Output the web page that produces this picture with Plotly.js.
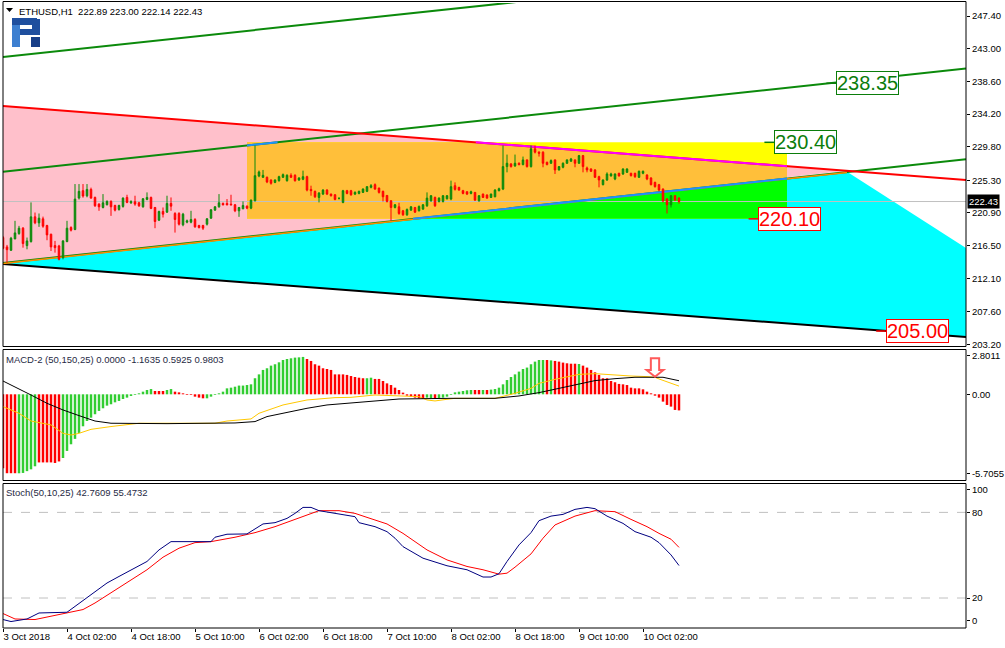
<!DOCTYPE html>
<html><head><meta charset="utf-8">
<script src="https://cdn.plot.ly/plotly-3.0.1.min.js"></script>
<style>html,body{margin:0;padding:0;background:#fff}#chart{width:1005px;height:648px}</style>
</head><body><div id="chart"></div>
<script>
// ---------------- DATA (ETHUSD, H1, bar index 0 = 3 Oct 2018 10:00) ----------------
const openP = [
217.58,216.32,215.87,217.40,218.12,218.84,216.50,217.04,220.37,219.56,
220.10,219.20,218.03,216.50,216.45,214.87,217.04,218.93,218.66,222.90,
223.89,223.20,224.06,222.98,222.08,221.63,222.00,222.44,221.90,221.36,
221.77,222.98,222.26,222.40,222.26,221.72,222.71,222.98,221.63,219.92,
221.09,221.00,222.17,220.82,220.82,219.29,219.65,219.65,220.01,219.20,
219.20,219.38,220.19,221.27,221.72,222.17,222.17,222.08,221.99,221.18,
221.45,221.81,221.54,222.53,225.86,225.69,225.69,225.33,225.00,225.24,
225.69,225.24,225.96,225.96,225.33,225.42,225.78,224.06,223.80,222.98,
223.43,223.97,223.43,223.34,222.85,222.31,223.89,223.89,223.43,223.52,
223.66,223.80,224.34,224.70,224.24,223.80,223.25,222.53,221.63,221.72,
221.18,220.64,221.27,221.63,221.18,221.41,221.86,222.53,222.98,222.44,
222.44,222.80,222.76,224.56,224.34,223.89,223.75,223.52,223.66,222.53,
223.43,223.30,222.98,223.07,223.89,224.11,227.13,227.49,227.22,227.58,
227.40,228.03,227.13,229.52,229.07,229.07,227.71,227.58,228.03,226.68,
227.04,227.58,227.85,228.03,227.58,228.61,226.95,226.81,226.68,225.78,
224.70,225.33,225.87,225.46,226.23,226.14,226.36,226.23,226.23,225.69,
226.23,226.00,225.60,225.01,224.70,224.11,222.76,221.99,223.21,222.89];
const highP = [
217.80,216.59,217.67,219.83,219.15,219.00,217.58,222.31,220.95,220.82,
220.40,219.30,218.10,217.13,216.60,217.22,219.83,219.10,224.78,224.78,
224.78,224.78,224.30,223.10,222.20,223.43,222.60,222.60,222.00,222.00,
223.00,223.34,222.60,223.21,222.40,222.90,223.66,223.10,221.70,221.20,
221.63,223.21,222.98,221.00,221.00,220.90,220.00,221.18,220.20,219.30,
219.30,220.20,221.40,221.80,223.43,222.30,222.76,223.34,222.10,221.70,
222.44,221.90,222.70,229.97,226.60,226.68,225.80,225.40,225.40,225.90,
226.20,226.10,226.23,226.10,225.70,226.59,225.90,224.56,223.90,223.70,
224.10,224.10,223.50,223.40,223.00,224.00,224.00,224.00,223.80,223.90,
224.20,224.50,224.78,224.87,224.30,223.90,223.30,222.60,222.10,222.26,
221.30,221.50,221.80,221.70,221.90,222.10,223.66,223.30,223.10,223.00,
223.30,223.30,225.24,225.01,224.40,224.00,223.80,223.89,223.70,223.30,
223.50,223.40,223.50,224.10,224.30,229.97,228.75,227.60,228.75,227.70,
228.48,228.10,229.97,229.97,229.20,229.20,227.80,228.10,228.10,227.20,
227.70,228.10,228.30,228.10,228.70,228.70,227.13,226.90,226.80,225.90,
225.40,226.36,226.30,226.20,226.30,226.90,226.90,226.30,226.30,226.60,
226.60,226.10,225.70,225.10,224.80,224.20,222.90,223.30,223.30,223.00];
const lowP = [
216.00,214.20,215.77,217.35,217.95,216.22,216.00,216.90,219.38,219.02,
218.90,217.22,215.77,215.55,214.51,214.65,216.95,218.40,218.57,222.70,
222.95,223.00,222.80,221.70,221.18,221.50,221.90,220.50,221.10,221.20,
221.60,222.20,222.10,221.86,221.70,221.60,222.60,221.40,218.84,219.80,
220.28,220.90,221.18,218.25,219.20,219.10,219.50,219.50,218.90,218.80,
218.60,219.20,220.10,221.20,221.60,221.90,221.90,221.90,221.00,220.37,
221.40,221.40,221.40,222.44,225.70,225.60,224.90,224.70,224.90,225.10,
225.60,225.10,225.60,225.10,225.20,225.30,223.80,223.21,222.90,222.31,
223.30,223.30,223.10,222.60,222.70,222.20,223.40,223.20,223.30,223.40,
223.60,223.70,224.20,224.00,223.50,222.44,222.30,219.83,221.50,220.64,
220.50,220.50,221.20,220.90,221.10,221.30,221.70,222.40,221.70,222.30,
222.30,222.70,222.60,223.90,223.90,223.40,223.30,223.40,222.50,222.40,
222.90,222.80,222.90,223.00,223.80,223.97,226.36,227.00,227.10,227.30,
227.30,227.00,227.00,228.90,228.48,227.04,227.30,227.50,226.14,226.60,
226.90,227.50,227.80,227.04,227.50,226.36,226.36,226.40,225.60,224.34,
224.60,225.20,225.80,225.30,225.80,226.00,226.30,225.80,225.60,225.60,
226.10,225.30,224.60,224.30,223.80,222.31,220.82,221.63,222.50,222.14];
const closeP = [
216.13,215.95,217.49,218.21,218.84,216.77,217.13,220.37,219.56,220.19,
219.11,217.94,216.32,216.22,214.65,217.13,218.84,218.57,222.76,223.80,
223.17,224.06,222.89,221.86,221.72,222.26,222.44,221.72,221.27,221.90,
222.89,222.31,222.40,222.08,221.86,222.80,222.98,221.50,219.74,221.09,
220.73,222.17,221.81,220.01,219.38,220.73,219.83,220.01,219.02,218.93,
218.84,220.10,221.32,221.72,222.26,221.99,221.99,221.99,221.18,221.63,
221.90,221.54,222.62,225.91,226.41,225.96,225.06,224.88,225.33,225.78,
226.05,225.96,225.69,225.24,225.60,225.78,223.97,223.89,223.07,223.57,
223.97,223.43,223.21,222.71,222.85,223.89,223.52,223.34,223.66,223.80,
224.11,224.43,224.56,224.11,223.66,223.07,222.44,221.63,221.99,220.82,
220.64,221.36,221.72,221.00,221.77,221.99,222.89,223.21,221.86,222.89,
223.21,223.21,224.43,224.06,223.97,223.52,223.43,223.75,222.62,223.21,
222.98,222.89,223.43,223.97,224.16,227.13,227.58,227.13,227.58,227.40,
228.03,227.13,229.52,229.07,228.93,227.58,227.40,227.94,226.68,227.13,
227.58,228.03,228.16,227.58,228.61,227.13,226.68,226.50,225.69,225.33,
225.33,226.14,226.14,226.14,225.87,226.81,226.81,225.91,225.78,226.50,
226.50,225.46,224.70,224.43,223.97,222.53,221.99,223.21,222.62,222.43];

// MACD-2 (50,150,25) histogram and its colour state (1 = green, 0 = red)
const macdHist = [
-5.35,-5.70,-5.70,-5.70,-5.7055,-5.68,-5.55,-5.42,-5.20,-4.92,
-4.92,-4.92,-4.92,-4.96,-4.85,-4.60,-4.09,-3.61,-3.22,-2.79,
-2.31,-1.93,-1.69,-1.44,-1.20,-1.01,-0.82,-0.72,-0.58,-0.48,
-0.34,-0.24,-0.12,-0.05,0.07,0.19,0.31,0.38,0.24,0.24,
0.24,0.31,0.38,0.19,0.14,0.07,-0.05,-0.05,-0.17,-0.24,
-0.29,-0.29,-0.17,-0.05,0.07,0.19,0.43,0.48,0.55,0.63,
0.63,0.67,0.72,1.16,1.44,1.76,1.88,2.07,2.17,2.31,
2.48,2.55,2.60,2.65,2.67,2.70,2.55,2.41,2.17,2.07,
1.88,1.83,1.76,1.44,1.44,1.44,1.40,1.32,1.25,1.20,
1.16,1.16,1.20,1.11,1.11,0.96,0.79,0.67,0.48,0.31,
0.12,-0.10,-0.17,-0.24,-0.29,-0.34,-0.24,-0.29,-0.34,-0.29,
-0.24,-0.17,-0.05,0.14,0.19,0.24,0.29,0.31,0.31,0.31,
0.31,0.31,0.34,0.38,0.48,0.72,1.03,1.25,1.44,1.64,
1.83,1.93,2.17,2.36,2.48,2.48,2.48,2.45,2.41,2.36,
2.29,2.24,2.21,2.21,2.19,2.07,1.93,1.76,1.59,1.40,
1.16,1.16,0.96,0.87,0.75,0.72,0.67,0.48,0.43,0.43,
0.36,0.19,0.07,-0.10,-0.24,-0.53,-0.77,-0.89,-1.13,-1.1635];
const macdHistUp = [
0,0,0,0,1,1,1,1,1,0, 0,0,0,0,0,1,1,1,1,1, 1,1,1,1,1,1,1,1,1,1,
1,1,1,1,1,1,1,1,0,0, 0,1,1,0,0,0,0,0,0,0, 0,1,1,1,1,1,1,1,1,1,
1,1,1,1,1,1,1,1,1,1, 1,1,1,1,1,1,0,0,0,0, 0,0,0,0,0,0,0,0,0,0,
0,1,1,0,0,0,0,0,0,0, 0,0,0,0,0,0,1,1,0,1, 1,1,1,1,1,1,1,1,0,0,
1,0,1,1,1,1,1,1,1,1, 1,1,1,1,1,1,0,1,0,0, 0,0,0,0,1,0,0,0,0,0,
0,0,0,0,0,0,0,0,0,0, 0,0,0,0,0,0,0,0,0,0];
// MACD main (black) and signal (gold) lines, read at bar indices
const macdMainBars = [0,3,7,11,15,19,23,27,41,58,63,66,72,76,81,86,91,99,112,123,129,134,139,144,148,153,158,165,169];
const macdMainVals = [0.96,0.55,-0.05,-0.65,-1.13,-1.54,-1.93,-2.09,-2.12,-2.07,-1.97,-1.61,-1.25,-1.01,-0.77,-0.65,-0.53,-0.34,-0.29,-0.29,-0.12,0.12,0.43,0.75,0.99,1.13,1.23,1.23,0.9803];
const macdSigBars = [0,4,7,12,15,17,19,22,27,31,34,53,56,62,64,70,76,83,87,93,98,104,106,108,111,113,123,124,128,132,134,138,141,144,148,152,157,161,163,164,166,168,169];
const macdSigVals = [-0.89,-1.37,-1.93,-2.21,-2.82,-2.94,-2.82,-2.53,-2.33,-2.21,-2.09,-2.09,-1.93,-1.78,-1.37,-0.77,-0.41,-0.24,-0.22,-0.05,-0.10,-0.17,-0.41,-0.48,-0.36,-0.29,-0.29,-0.22,0.07,0.43,0.79,1.08,1.28,1.44,1.49,1.40,1.32,1.28,1.23,1.11,0.91,0.72,0.5925];

// Stochastic (50,10,25): main (navy) and signal (red)
const stochMainBars = [0,2,6,9,16,18,22,26,29,33,36,39,42,52,53,56,61,65,68,71,73,75,77,79,83,86,88,89,93,96,98,100,105,111,113,116,120,122,124,126,129,132,134,137,140,143,146,148,151,155,158,162,164,167,169];
const stochMainVals = [4.9,3.5,5.3,9.5,10,14.2,22.3,30.5,35.1,40.9,45.6,53.7,59.5,59.5,62.6,64.7,64.9,71.9,72.8,75.8,79.3,83.5,83.5,81.2,79.3,78.1,77,72.8,70,66.5,61.9,56,47.9,42.6,41.6,39.8,34.7,34.7,37,45.6,57.2,65.8,74.2,77.4,78.6,82.1,83.5,82.6,77.4,72.3,66.5,62.6,58.8,50.2,42.7609];
const stochSigBars = [0,3,8,12,16,20,23,27,32,36,40,44,48,52,58,63,68,73,77,79,84,88,91,96,100,106,111,116,120,124,126,128,132,135,138,143,148,153,157,161,164,167,169];
const stochSigVals = [9.1,5.3,4.9,7.2,9.1,11.9,16.5,23.5,32.8,39.8,48.6,54.9,58.8,59.5,62.6,65.8,70,75.1,78.8,81.2,81.2,79.3,76.5,71.9,65.3,53.7,46.7,42.1,39.8,36.7,37.4,41.6,50.9,61.9,71.2,77.4,81.2,80.5,75.1,70,65.3,61.2,55.4732];

// time axis labels
const timeTickBars = [0,16,32,48,64,80,96,112,128,144,160];
const timeTickLabels = ['3 Oct 2018','4 Oct 02:00','4 Oct 18:00','5 Oct 10:00','6 Oct 02:00','6 Oct 18:00','7 Oct 10:00','8 Oct 02:00','8 Oct 18:00','9 Oct 10:00','10 Oct 02:00'];
// price axis labels
const priceTicks = [247.40,243.00,238.60,234.20,229.80,225.30,220.90,216.50,212.10,207.60,203.20];

// analyst objects (bar index, price)
const redTrend = [[0,235.29],[240.75,225.33]];
const supportTrend = [[0,214.08],[211,226.35]];
const chanTop = [[0,241.88],[240.75,255.77]];
const chanMid = [[0,226.44],[240.75,240.33]];
const chanLow = [[0,214.16],[240.75,228.11]];
const blackTrend = [[0,214.02],[240.75,204.20]];
const apex = [211,226.45];
const cyanRightEdge = [240.75,216.18];
const boxBars = [61,196];
const boxPrices = [220.10,230.40];
const levelLabels = [
  {text:'238.35', bar:208.25, price:238.35, color:'#0b7d0b'},
  {text:'230.40', bar:192.75, price:230.40, color:'#0b7d0b'},
  {text:'220.10', bar:188.8,  price:220.10, color:'#ff0000'},
  {text:'205.00', bar:220.7,  price:205.00, color:'#ff0000'}
];

// ---------------- LAYOUT HELPERS ----------------
const W = 1005, H = 648, ML = 3, MR = 39, MT = 3, MB = 20;
const PW = W - ML - MR, PH = H - MT - MB;
const PX = x => (x - ML) / PW;
const PY = y => (H - MB - y) / PH;
const nBars = closeP.length;
const bars = closeP.map((_, i) => i);
const lastClose = closeP[nBars - 1];
const FONT = 'Liberation Sans, Arial, sans-serif';

const lineAt = (seg, i) => seg[0][1] + (seg[1][1] - seg[0][1]) * (i - seg[0][0]) / (seg[1][0] - seg[0][0]);
const xAt = (seg, p) => seg[0][0] + (p - seg[0][1]) * (seg[1][0] - seg[0][0]) / (seg[1][1] - seg[0][1]);

const shapes = [];
const poly = (pts, fill, yref) => shapes.push({type:'path', xref:'x', yref:yref||'y', layer:'below',
  path: 'M ' + pts.map(p => p[0] + ',' + p[1]).join(' L ') + ' Z', fillcolor: fill, line:{width:0}});
const seg = (a, b, color, width, layer, yref, dash) => shapes.push({type:'line', xref:'x', yref:yref||'y', layer:layer||'below',
  x0:a[0], y0:a[1], x1:b[0], y1:b[1], line:{color:color, width:width, dash:dash||'solid'}});

// pink triangle & cyan area
poly([redTrend[0], [apex[0], lineAt(redTrend, apex[0])], chanLow[0]], '#ffc0cb');
poly([chanLow[0], apex, cyanRightEdge, blackTrend[1], blackTrend[0]], '#00ffff');
// rectangle (yellow, blended orange over pink, green over cyan)
const b0 = boxBars[0], b1 = boxBars[1], pLo = boxPrices[0], pHi = boxPrices[1];
poly([[b0,pLo],[b0,pHi],[b1,pHi],[b1,pLo]], '#ffff00');
const redX = xAt(redTrend, pHi), supX = xAt(chanLow, pLo);
poly([[b0,pHi],[redX,pHi],[b1,lineAt(redTrend,b1)],[b1,lineAt(chanLow,b1)],[supX,pLo],[b0,pLo]], '#ffbf3a');
poly([[supX,pLo],[b1,lineAt(chanLow,b1)],[b1,pLo]], '#00ff00');

// current price line
seg([0,lastClose],[240.75,lastClose],'#c0c0c0',1);
// trend lines
seg(blackTrend[0], blackTrend[1], '#000000', 2);
seg(chanTop[0], chanTop[1], '#0b8a0b', 2);
seg(chanMid[0], chanMid[1], '#0b8a0b', 2);
seg(chanLow[0], chanLow[1], '#0b8a0b', 2);
seg(supportTrend[0], supportTrend[1], '#ff8c00', 1.5);
seg(redTrend[0], redTrend[1], '#ff0000', 2);
// blended colours inside rectangle
seg([redX,pHi],[b1,lineAt(redTrend,b1)],'#ff00ff',2);
seg([supX,lineAt(chanLow,supX)],[b1,lineAt(chanLow,b1)],'#1e90ff',2);
seg([b0,lineAt(chanMid,b0)],[xAt(chanMid,pHi),pHi],'#1e90ff',2);
// price label ticks
levelLabels.forEach(l => seg([l.bar-2.4,l.price],[l.bar,l.price],l.color,1.5));

// stochastic levels
seg([0,80],[240.75,80],'#c0c0c0',1,'below','y3','dash');
seg([0,20],[240.75,20],'#c0c0c0',1,'below','y3','dash');

// sell arrow in MACD window
shapes.push({type:'path', xref:'x', yref:'y2', layer:'above',
  path:'M 161.96,2.60 L 164.04,2.60 L 164.04,1.75 L 165.1,1.75 L 163,1.27 L 160.9,1.75 L 161.96,1.75 Z',
  fillcolor:'#ffffff', line:{color:'#ff5a5a', width:2}});

// panel frames (pixel -> paper)
const frame = (y0, y1) => shapes.push({type:'rect', xref:'paper', yref:'paper', layer:'above',
  x0:0, x1:1, y0:PY(y1), y1:PY(y0), line:{color:'#000', width:1}, fillcolor:'rgba(0,0,0,0)'});
frame(1.5, 346.5); frame(349.5, 480.5); frame(483.5, 628);

// logo
const prect = (x0,y0,x1,y1,c) => shapes.push({type:'rect', xref:'paper', yref:'paper', layer:'above',
  x0:PX(x0), x1:PX(x1), y0:PY(y1), y1:PY(y0), fillcolor:c, line:{width:0}});
prect(12,18,20,47,'#3d7fd0');
prect(12,18,37,25,'#1f4f9e');
prect(32,19,40,34,'#1f4f9e');
prect(20,29,40,35,'#1f4f9e');
prect(31,37,40,47,'#183f88');
// title triangle
shapes.push({type:'path', xref:'paper', yref:'paper', layer:'above',
  path:`M ${PX(6)},${PY(8)} L ${PX(13)},${PY(8)} L ${PX(9.5)},${PY(12)} Z`, fillcolor:'#000', line:{width:0}});

// ---------------- ANNOTATIONS ----------------
const annotations = [];
const ptext = (x, y, t, size, color) => annotations.push({xref:'paper', yref:'paper', x:PX(x), y:PY(y),
  xanchor:'left', yanchor:'middle', text:t, showarrow:false, font:{family:FONT, size:size, color:color}});
ptext(17, 11, 'ETHUSD,H1\u00a0\u00a0' + [openP[nBars-1], highP[nBars-1], lowP[nBars-1], lastClose].map(v=>v.toFixed(2)).join(' '), 9.5, '#000');
ptext(4, 359, 'MACD-2 (50,150,25) 0.0000 ' + macdHist[nBars-1].toFixed(4) + ' ' + macdSigVals[macdSigVals.length-1].toFixed(4) + ' ' + macdMainVals[macdMainVals.length-1].toFixed(4), 9.5, '#1f2a44');
ptext(4, 492, 'Stoch(50,10,25) ' + stochMainVals[stochMainVals.length-1].toFixed(4) + ' ' + stochSigVals[stochSigVals.length-1].toFixed(4), 9.5, '#1f2a44');
levelLabels.forEach(l => annotations.push({xref:'x', yref:'y', x:l.bar, y:l.price, xanchor:'left', yanchor:'middle',
  text:l.text, showarrow:false, font:{family:FONT, size:20, color:l.color}, bgcolor:'#ffffff', bordercolor:l.color, borderwidth:1, borderpad:0}));
annotations.push({xref:'paper', yref:'y', x:PX(966.5), y:lastClose, xanchor:'left', yanchor:'middle',
  text:lastClose.toFixed(2), showarrow:false, font:{family:FONT, size:9.5, color:'#ffffff'}, bgcolor:'#000000', borderpad:1});

// ---------------- TRACES ----------------
const traces = [
  {type:'candlestick', x:bars, open:openP, high:highP, low:lowP, close:closeP, xaxis:'x', yaxis:'y',
   increasing:{line:{color:'#0b8a0b', width:1}, fillcolor:'#0b8a0b'},
   decreasing:{line:{color:'#ff0000', width:1}, fillcolor:'#ff0000'},
   whiskerwidth:0, hoverinfo:'skip', showlegend:false},
  {type:'bar', x:bars, y:macdHist, xaxis:'x', yaxis:'y2', width:0.62,
   marker:{color:macdHistUp.map(u => u ? '#32cd32' : '#ff0000'), line:{width:0}}, hoverinfo:'skip', showlegend:false},
  {type:'scatter', mode:'lines', x:macdSigBars, y:macdSigVals, xaxis:'x', yaxis:'y2', line:{color:'#ffc800', width:1, shape:'linear'}, hoverinfo:'skip', showlegend:false},
  {type:'scatter', mode:'lines', x:macdMainBars, y:macdMainVals, xaxis:'x', yaxis:'y2', line:{color:'#000000', width:1}, hoverinfo:'skip', showlegend:false},
  {type:'scatter', mode:'lines', x:stochSigBars, y:stochSigVals, xaxis:'x', yaxis:'y3', line:{color:'#ff0000', width:1}, hoverinfo:'skip', showlegend:false},
  {type:'scatter', mode:'lines', x:stochMainBars, y:stochMainVals, xaxis:'x', yaxis:'y3', line:{color:'#000080', width:1}, hoverinfo:'skip', showlegend:false}
];

const yCommon = {side:'right', showgrid:false, zeroline:false, showline:false, ticks:'outside', ticklen:3, tickcolor:'#000',
  tickfont:{family:FONT, size:9.5, color:'#000'}, fixedrange:true, anchor:'x'};
const layout = {
  width:W, height:H, margin:{l:ML, r:MR, t:MT, b:MB, pad:0},
  paper_bgcolor:'#ffffff', plot_bgcolor:'#ffffff', showlegend:false, boxgap:0.45,
  font:{family:FONT, size:9.5, color:'#000'},
  xaxis:{anchor:'y3', range:[0, 240.75], showgrid:false, zeroline:false, showline:false,
    tickvals:timeTickBars, ticktext:timeTickLabels, ticks:'outside', ticklen:3, tickcolor:'#000',
    ticklabelposition:'outside right', tickfont:{family:FONT, size:9.5, color:'#000'},
    rangeslider:{visible:false}, fixedrange:true},
  yaxis:Object.assign({}, yCommon, {domain:[PY(347), PY(3)], range:[202.85, 249.15],
    tickvals:priceTicks, ticktext:priceTicks.map(v=>v.toFixed(2))}),
  yaxis2:Object.assign({}, yCommon, {domain:[PY(480), PY(350)], range:[-6.19, 3.20],
    tickvals:[2.8011, 0, -5.7055], ticktext:['2.8011','0.00','-5.7055']}),
  yaxis3:Object.assign({}, yCommon, {domain:[PY(628), PY(483)], range:[-1.03, 100.6],
    tickvals:[96.2, 80, 20, 4.4], ticktext:['100','80','20','0']}),
  shapes:shapes, annotations:annotations
};
Plotly.newPlot('chart', traces, layout, {staticPlot:true, displayModeBar:false});
</script></body></html>
